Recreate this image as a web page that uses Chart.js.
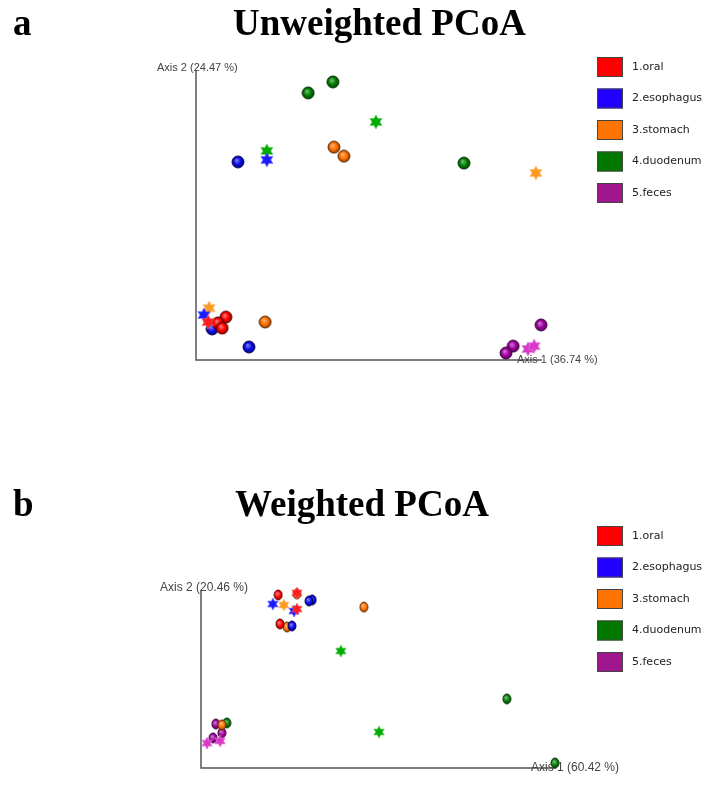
<!DOCTYPE html>
<html>
<head>
<meta charset="utf-8">
<script src="https://cdn.jsdelivr.net/npm/chart.js@4.4.1/dist/chart.umd.min.js"></script>
<style>
  body { margin: 0; background: #fff; }
  #wrap { position: relative; width: 710px; height: 788px; }
  canvas { position: absolute; left: 0; }
</style>
</head>
<body>
<div id="wrap">
  <canvas id="pcoaA" width="710" height="440" style="top:0"></canvas>
  <canvas id="pcoaB" width="710" height="348" style="top:440px"></canvas>
</div>
<script>
// grupos y colores
const groups = ['1.oral', '2.esophagus', '3.stomach', '4.duodenum', '5.feces'];
const legendColors = ['#ff0000', '#2200ff', '#ff7400', '#007800', '#a0168c'];
const sphereColors = ['#ff0000', '#0a0ae6', '#ff7000', '#008000', '#a000a0'];
const starColors = ['#ff1c1c', '#1a1aff', '#ff9a22', '#00aa00', '#d838c8'];

// Unweighted PCoA (escala 0-100 sobre cada eje)
const uwOralCircles = [[8.7, 14.8], [6.4, 12.8], [7.6, 11.0]];
const uwOralStars = [[3.5, 13.1]];
const uwEsoCircles = [[4.7, 10.7], [15.4, 4.5], [12.2, 68.3]];
const uwEsoStars = [[2.3, 15.5], [20.6, 69.0]];
const uwStomCircles = [[20.1, 13.1], [40.1, 73.4], [43.0, 70.3]];
const uwStomStars = [[3.8, 17.9], [98.8, 64.5]];
const uwDuoCircles = [[39.8, 95.9], [32.6, 92.1], [77.9, 67.9]];
const uwDuoStars = [[20.6, 72.1], [52.3, 82.1]];
const uwFecCircles = [[100.3, 12.1], [92.2, 4.8], [90.1, 2.4]];
const uwFecStars = [[96.5, 3.8], [98.3, 4.8]];

// Weighted PCoA
const wOralCircles = [[21.8, 97.2], [22.3, 80.9]];
const wOralStars = [[27.1, 98.3], [27.1, 89.3]];
const wEsoCircles = [[31.4, 94.4], [30.5, 93.8], [25.7, 79.8]];
const wEsoStars = [[20.3, 92.1], [26.3, 88.2]];
const wStomCircles = [[27.1, 97.8], [24.3, 79.2], [46.0, 90.4], [5.9, 24.2]];
const wStomStars = [[23.4, 91.6]];
const wDuoCircles = [[86.4, 38.8], [100, 2.8], [7.3, 25.3]];
const wDuoStars = [[39.5, 65.7], [50.3, 20.2]];
const wFecCircles = [[4.2, 24.7], [5.9, 19.7], [3.4, 16.9]];
const wFecStars = [[1.7, 14.0], [5.4, 15.2]];

function shade(hex, f) {
  const n = parseInt(hex.slice(1), 16);
  let r = n >> 16, g = (n >> 8) & 255, b = n & 255;
  if (f > 0) { r += (255 - r) * f; g += (255 - g) * f; b += (255 - b) * f; }
  else { r *= 1 + f; g *= 1 + f; b *= 1 + f; }
  return 'rgb(' + Math.round(r) + ',' + Math.round(g) + ',' + Math.round(b) + ')';
}

// esfera con brillo
function sphere(color, w, h) {
  const c = document.createElement('canvas');
  c.width = w + 2; c.height = h + 2;
  const g = c.getContext('2d');
  const cx = c.width / 2, cy = c.height / 2;
  const grd = g.createRadialGradient(cx - w * 0.12, cy - h * 0.15, 0.5, cx, cy, Math.max(w, h) / 2);
  grd.addColorStop(0, shade(color, 0.45));
  grd.addColorStop(0.55, color);
  grd.addColorStop(1, shade(color, -0.45));
  g.beginPath();
  g.ellipse(cx, cy, w / 2, h / 2, 0, 0, Math.PI * 2);
  g.fillStyle = grd;
  g.fill();
  g.lineWidth = 0.9;
  g.strokeStyle = shade(color, -0.65);
  g.stroke();
  return c;
}

// estrella de 6 puntas
function star(color, r) {
  const c = document.createElement('canvas');
  c.width = c.height = r * 2 + 2;
  const g = c.getContext('2d');
  const cx = c.width / 2;
  g.beginPath();
  for (let i = 0; i < 12; i++) {
    const a = -Math.PI / 2 + i * Math.PI / 6;
    const rr = i % 2 === 0 ? r : r * 0.55;
    g.lineTo(cx + rr * Math.cos(a), cx + rr * Math.sin(a));
  }
  g.closePath();
  g.fillStyle = color;
  g.fill();
  g.lineWidth = 0.6;
  g.strokeStyle = shade(color, 0.3);
  g.stroke();
  return c;
}

function buildDatasets(circles, stars, cw, ch, sr) {
  const ds = [];
  groups.forEach((name, i) => {
    ds.push({
      label: name,
      data: stars[i].map(p => ({ x: p[0], y: p[1] })),
      pointStyle: star(starColors[i], sr),
      clip: false
    });
    ds.push({
      label: name,
      data: circles[i].map(p => ({ x: p[0], y: p[1] })),
      pointStyle: sphere(sphereColors[i], cw, ch),
      clip: false
    });
  });
  return ds;
}

// título, ejes y leyenda
const panelDecor = {
  id: 'panelDecor',
  beforeDatasetsDraw(chart, args, o) {
    const { ctx, chartArea: ca } = chart;
    ctx.save();
    ctx.strokeStyle = '#555';
    ctx.lineWidth = 1.5;
    ctx.beginPath();
    ctx.moveTo(ca.left, ca.top);
    ctx.lineTo(ca.left, ca.bottom);
    ctx.lineTo(o.axisRight, ca.bottom);
    ctx.stroke();
    ctx.restore();
  },
  afterDatasetsDraw(chart, args, o) {
    const { ctx, chartArea: ca } = chart;
    ctx.save();
    ctx.fillStyle = '#000';
    ctx.textBaseline = 'alphabetic';
    ctx.font = 'bold 37px "Liberation Serif", "Times New Roman", serif';
    ctx.fillText(o.letter, 13, o.titleY);
    ctx.fillText(o.title, o.titleX, o.titleY);

    ctx.fillStyle = '#444';
    ctx.textBaseline = 'middle';
    ctx.font = o.axisFont + 'px "Liberation Sans", Arial, sans-serif';
    ctx.fillText(o.yLabel, o.yLabelX, ca.top - 2);
    ctx.fillText(o.xLabel, o.xLabelX, ca.bottom);

    ctx.font = '11px "DejaVu Sans", Verdana, sans-serif';
    groups.forEach((name, i) => {
      const y = o.legendY + i * 31.5;
      ctx.fillStyle = legendColors[i];
      ctx.fillRect(597, y, 26, 20);
      ctx.strokeStyle = '#444';
      ctx.lineWidth = 1;
      ctx.strokeRect(597.5, y + 0.5, 25, 19);
      ctx.fillStyle = '#222';
      ctx.fillText(name, 632, y + 10);
    });
    ctx.restore();
  }
};

function makePanel(id, datasets, padding, decor) {
  return new Chart(document.getElementById(id), {
    type: 'scatter',
    data: { datasets: datasets },
    options: {
      responsive: false,
      animation: false,
      devicePixelRatio: 1,
      layout: { padding: padding },
      scales: {
        x: { type: 'linear', display: false, min: 0, max: 100 },
        y: { type: 'linear', display: false, min: 0, max: 100 }
      },
      plugins: {
        legend: { display: false },
        tooltip: { enabled: false },
        panelDecor: decor
      },
      events: []
    },
    plugins: [panelDecor]
  });
}

const chartA = makePanel('pcoaA',
  buildDatasets(
    [uwOralCircles, uwEsoCircles, uwStomCircles, uwDuoCircles, uwFecCircles],
    [uwOralStars, uwEsoStars, uwStomStars, uwDuoStars, uwFecStars], 12, 12, 7),
  { left: 196, right: 170, top: 70, bottom: 80 },
  { letter: 'a', title: 'Unweighted PCoA', titleX: 233, titleY: 35,
    yLabel: 'Axis 2 (24.47 %)', yLabelX: 157, xLabel: 'Axis 1 (36.74 %)', xLabelX: 517,
    axisFont: 11, axisRight: 542, legendY: 57 });

const chartB = makePanel('pcoaB',
  buildDatasets(
    [wOralCircles, wEsoCircles, wStomCircles, wDuoCircles, wFecCircles],
    [wOralStars, wEsoStars, wStomStars, wDuoStars, wFecStars], 8, 10, 6),
  { left: 201, right: 155, top: 150, bottom: 20 },
  { letter: 'b', title: 'Weighted PCoA', titleX: 235, titleY: 76,
    yLabel: 'Axis 2 (20.46 %)', yLabelX: 160, xLabel: 'Axis 1 (60.42 %)', xLabelX: 531,
    axisFont: 12, axisRight: 556, legendY: 86 });
</script>
</body>
</html>
